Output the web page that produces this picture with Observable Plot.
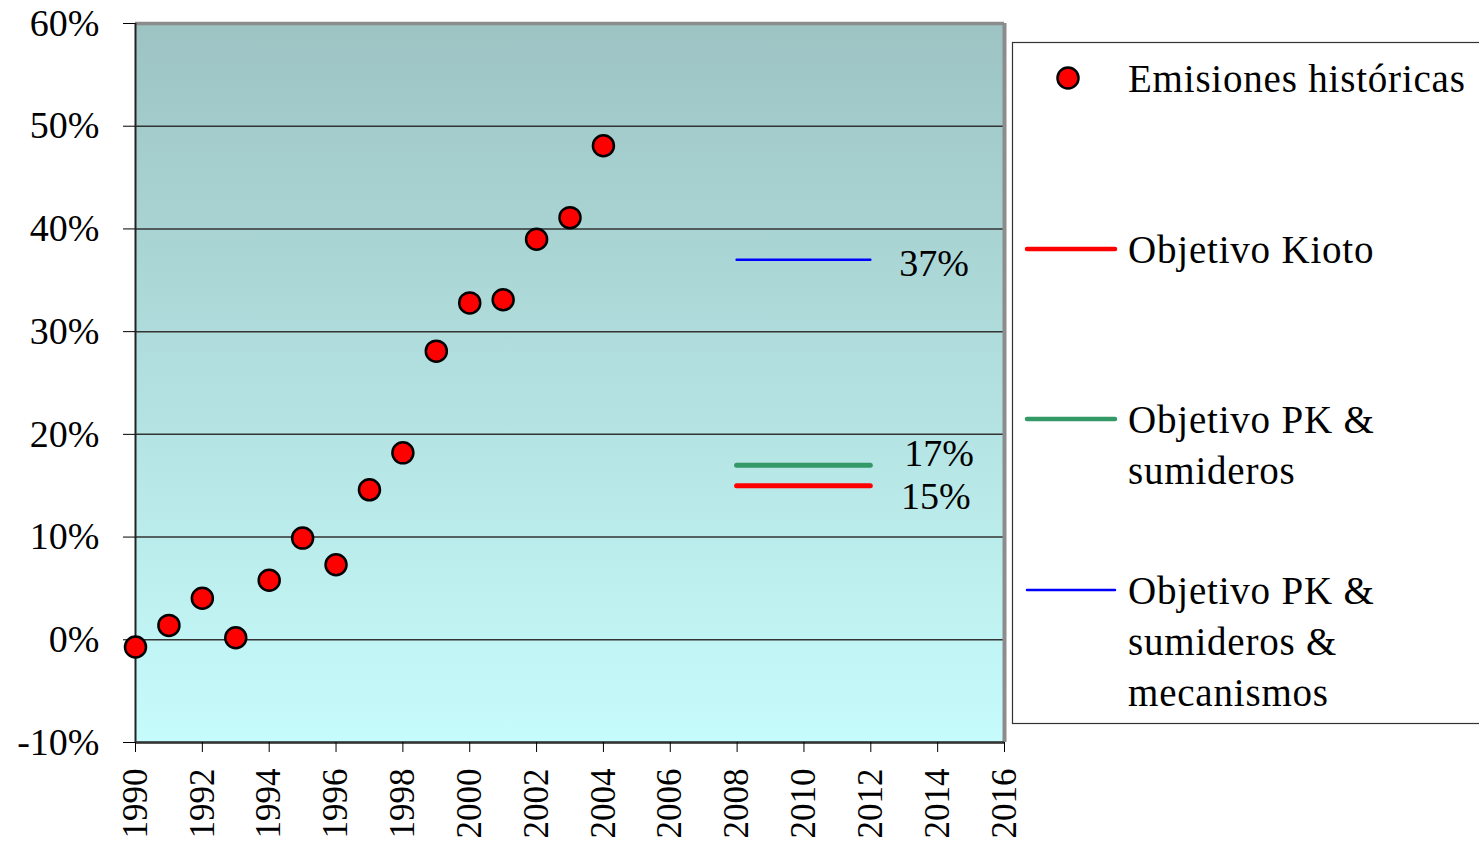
<!DOCTYPE html>
<html><head><meta charset="utf-8">
<script src="https://cdn.jsdelivr.net/npm/d3@7"></script>
<script src="https://cdn.jsdelivr.net/npm/@observablehq/plot@0.6"></script>
<style>
body{margin:0;background:#fff;overflow:hidden;}
#wrap{position:relative;width:1479px;height:842px;}
#legend{position:absolute;left:1000px;top:0;}
</style></head><body><div id="wrap"></div>
<script>
// ---- data ----
const years = [1990,1991,1992,1993,1994,1995,1996,1997,1998,1999,2000,2001,2002,2003,2004];
const emissions = [-0.7,1.4,4.05,0.2,5.8,9.9,7.3,14.6,18.2,28.1,32.8,33.1,39.0,41.1,48.1];
const targetNames = ["Objetivo Kioto","Objetivo PK & sumideros","Objetivo PK & sumideros & mecanismos"];
const targetValues = [15,17,37];
const targetLabels = ["15%","17%","37%"];
const targetPeriod = [2008,2012];
const targetColors = ["#ff0000","#339966","#0000ff"];
const legendLines = [["Emisiones históricas"],["Objetivo Kioto"],["Objetivo PK &","sumideros"],["Objetivo PK &","sumideros &","mecanismos"]];
const xTicks = d3.range(1990, 2017, 2);
const yTicks = d3.range(-10, 61, 10);

const pts = years.map((y,i)=>({year:y, value:emissions[i]}));
const tgt = targetValues.map((v,i)=>({name:targetNames[i], value:v, label:targetLabels[i], x1:targetPeriod[0], x2:targetPeriod[1]}));

const font = "'Liberation Serif', 'Times New Roman', serif";

const labelMark = (i, dy, x) => Plot.text([tgt[i]], {x: () => x, y: "value", text: "label", textAnchor: "start",
  fontSize: 38, dy, fill: "#000", fontFamily: font});

const chart = Plot.plot({
  width: 1479, height: 842,
  marginLeft: 135, marginRight: 475, marginTop: 23, marginBottom: 100,
  style: {fontFamily: font, background: "transparent", color: "#000", overflow: "visible"},
  x: {domain: [1990, 2016], label: null},
  y: {domain: [-10, 60], label: null},
  marks: [
    Plot.frame({fill: "url(#bggrad)", stroke: null}),
    Plot.gridY({ticks: yTicks, stroke: "#333", strokeOpacity: 1, strokeWidth: 1.5}),
    Plot.ruleY([60], {stroke: "#8c8c8c", strokeWidth: 3.5}),
    Plot.ruleX([2016], {stroke: "#8c8c8c", strokeWidth: 4}),
    Plot.ruleX([1990], {stroke: "#222", strokeWidth: 2}),
    Plot.ruleY([-10], {stroke: "#333", strokeWidth: 2.5}),
    Plot.axisY({ticks: yTicks, tickFormat: d => d + "%", tickSize: 12, tickPadding: 24, fontSize: 38, stroke: "#000", label: null, fontFamily: font}),
    Plot.axisX({ticks: xTicks, tickFormat: d => String(d), tickSize: 10, tickPadding: 16, tickRotate: -90, fontSize: 35, stroke: "#000", label: null, fontFamily: font}),
    Plot.ruleY([tgt[2]], {y: "value", x1: "x1", x2: "x2", stroke: targetColors[2], strokeWidth: 2.5, strokeLinecap: "round"}),
    Plot.ruleY([tgt[1]], {y: "value", x1: "x1", x2: "x2", stroke: targetColors[1], strokeWidth: 5, strokeLinecap: "round"}),
    Plot.ruleY([tgt[0]], {y: "value", x1: "x1", x2: "x2", stroke: targetColors[0], strokeWidth: 5, strokeLinecap: "round"}),
    labelMark(2, 4, 2012.85),
    labelMark(1, -11, 2013.0),
    labelMark(0, 11, 2012.9),
    Plot.dot(pts, {x: "year", y: "value", r: 10.5, fill: "#ff0000", stroke: "#000", strokeWidth: 2.5})
  ]
});

const svg = d3.select(chart);
const defs = svg.insert("defs", ":first-child");
const g = defs.append("linearGradient").attr("id","bggrad").attr("x1",0).attr("y1",0).attr("x2",0).attr("y2",1);
g.append("stop").attr("offset","0%").attr("stop-color","#9dc3c3");
g.append("stop").attr("offset","100%").attr("stop-color","#c7fcfc");

document.getElementById("wrap").appendChild(chart);

// legend
const lg = d3.select("#wrap").append("svg").attr("id","legend").attr("width",479).attr("height",842)
  .style("font-family", font);
lg.append("rect").attr("x",12.5).attr("y",42.5).attr("width",480).attr("height",681)
  .attr("fill","#fff").attr("stroke","#333").attr("stroke-width",1.2);
const rowY = [78, 249, 419, 590];
lg.append("circle").attr("cx",68).attr("cy",rowY[0]).attr("r",10.5).attr("fill","#ff0000").attr("stroke","#000").attr("stroke-width",2.5);
const lw = [4.5, 4.5, 2.5];
[0,1,2].forEach(i => {
  lg.append("line").attr("x1",27).attr("x2",115).attr("y1",rowY[i+1]).attr("y2",rowY[i+1])
    .attr("stroke",targetColors[i]).attr("stroke-width",lw[i]).attr("stroke-linecap","round");
});
legendLines.forEach((lines,i) => {
  lines.forEach((t,j) => {
    lg.append("text").attr("x",128).attr("y",rowY[i] + 14 + j*51).attr("font-size",39)
      .attr("letter-spacing", 0.8).attr("fill","#000").text(t);
  });
});
</script></body></html>
